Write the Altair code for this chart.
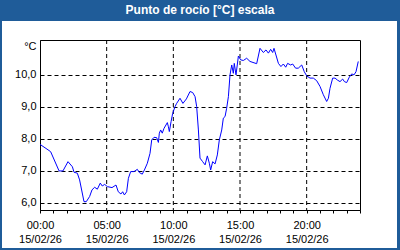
import altair as alt
import pandas as pd

hours = [0.0, 0.6, 0.8, 1.43, 1.72, 2.1, 2.43, 2.55, 2.8, 2.97, 3.3, 3.47, 3.72, 3.9, 4.1, 4.3,
         4.52, 4.67, 4.85, 5.05, 5.4, 5.7, 5.87, 6.07, 6.2, 6.33, 6.5, 6.63, 6.8, 7.05, 7.3, 7.45,
         7.67, 7.83, 8.05, 8.25, 8.38, 8.55, 8.75, 8.88, 8.95, 9.05, 9.17, 9.3, 9.55, 9.63, 9.7,
         9.83, 9.95, 10.13, 10.25, 10.5, 10.72, 10.98, 11.25, 11.45, 11.63, 11.75, 11.88, 12.0,
         12.2, 12.38, 12.55, 12.7, 12.8, 12.95, 13.13, 13.3, 13.45, 13.63, 13.75, 13.88, 14.0,
         14.13, 14.25, 14.38, 14.5, 14.57, 14.7, 14.88, 15.05, 15.25, 15.5, 15.75, 16.25, 16.5,
         16.75, 16.95, 17.13, 17.3, 17.45, 17.55, 17.88, 18.07, 18.25, 18.43, 18.57, 18.8, 18.95,
         19.17, 19.37, 19.63, 19.82, 20.0, 20.25, 20.5, 20.75, 21.0, 21.25, 21.5, 21.63, 21.75,
         21.95, 22.13, 22.3, 22.5, 22.7, 22.83, 23.0, 23.2, 23.38, 23.55, 23.7, 23.87]
dewpoint = [7.83, 7.66, 7.60, 7.00, 7.00, 7.29, 7.13, 6.96, 6.93, 6.72, 6.04, 6.04, 6.20, 6.41, 6.49, 6.43,
            6.62, 6.53, 6.58, 6.51, 6.48, 6.56, 6.35, 6.28, 6.35, 6.25, 6.35, 6.77, 6.98, 6.98, 7.05, 6.95,
            6.90, 7.03, 7.24, 7.55, 7.97, 8.05, 8.04, 7.89, 8.18, 8.28, 8.18, 8.33, 8.51, 8.38, 8.23,
            8.54, 8.80, 9.01, 9.11, 9.27, 9.11, 9.25, 9.48, 9.45, 9.32, 9.01, 8.28, 7.40,
            7.29, 7.19, 7.47, 7.24, 7.03, 7.29, 7.22, 7.50, 7.97, 8.28, 8.65, 8.70, 8.96,
            9.32, 10.0, 10.31, 10.05, 10.36, 10.0, 10.59, 10.47, 10.45, 10.52, 10.42, 10.35, 10.83,
            10.70, 10.78, 10.68, 10.80, 10.70, 10.83, 10.36, 10.26, 10.34, 10.24, 10.36, 10.31, 10.34,
            10.21, 10.21, 10.31, 10.10, 9.97, 9.90, 9.90, 9.82, 9.64, 9.38, 9.17, 9.27, 9.58,
            9.90, 9.90, 9.84, 9.79, 9.87, 9.79, 9.76, 9.93, 10.03, 10.0, 10.1, 10.42]

x_grid = [5, 10, 15, 20]
y_ticks = [6, 7, 8, 9, 10]
x_ticks = list(range(0, 25))
date_label = "15/02/26"
title_text = "Punto de rocío [°C] escala"
unit_label = "°C"

FRAME = "#1f5c99"
FONT = "Liberation Sans"

df = pd.DataFrame({"h": hours, "v": dewpoint})
xscale = alt.Scale(domain=[0, 24], nice=False, zero=False)
yscale = alt.Scale(domain=[5.78, 11.09], nice=False, zero=False)

x_axis = alt.Axis(
    values=x_ticks, grid=False, tickSize=3, tickColor="black",
    domainColor="black", labelFont=FONT, labelFontSize=11, labelColor="black",
    labelPadding=6, labelFlush=False, labelOverlap=False, labelBound=False,
    labelLineHeight=14,
    labelExpr="datum.value % 5 == 0 ? [(datum.value < 10 ? '0' : '') + datum.value + ':00', '" + date_label + "'] : ''",
    title=None)

y_axis = alt.Axis(
    values=y_ticks, grid=True, gridColor="black", gridDash=[4, 3], gridOpacity=1,
    tickSize=0, domainColor="black", labelFont=FONT, labelFontSize=11,
    labelColor="black", labelPadding=4, labelFlush=False,
    labelExpr="replace(format(datum.value, '.1f'), '.', ',')",
    title=unit_label, titleAngle=0, titleX=-4, titleY=6, titleAlign="right",
    titleBaseline="middle", titleFont=FONT, titleFontSize=11,
    titleFontWeight="normal", titleColor="black")

one = pd.DataFrame({"a": [0]})

def deco(x, x2, y, y2):
    return alt.Chart(one).mark_rect(color=FRAME).encode(
        x=alt.value(x), x2=alt.value(x2), y=alt.value(y), y2=alt.value(y2))

frame = [
    deco(-40, 360, -40, -19),
    deco(-40, -38, -40, 210),
    deco(357, 360, -40, 210),
    deco(-40, 360, 208, 210),
]

title = alt.Chart(one).mark_text(
    text=title_text, font=FONT, fontSize=12, fontWeight="bold", color="white",
    align="center", baseline="alphabetic"
).encode(x=alt.value(160), y=alt.value(-26))

xgrid = alt.Chart(pd.DataFrame({"h": x_grid})).mark_rule(
    color="black", strokeDash=[4, 3], strokeWidth=1
).encode(x=alt.X("h:Q", scale=xscale, axis=x_axis))

line = alt.Chart(df).mark_line(color="#0000ff", strokeWidth=1).encode(
    x=alt.X("h:Q", scale=xscale, axis=x_axis),
    y=alt.Y("v:Q", scale=yscale, axis=y_axis),
)

chart = alt.layer(*frame, title, xgrid, line).properties(
    width=320, height=170,
    autosize=alt.AutoSizeParams(type="none"),
    padding={"left": 40, "top": 40, "right": 40, "bottom": 40},
    background="white",
).configure_view(stroke="black", strokeWidth=1)

chart.save("out.html", embed_options={"renderer": "svg", "actions": False})
